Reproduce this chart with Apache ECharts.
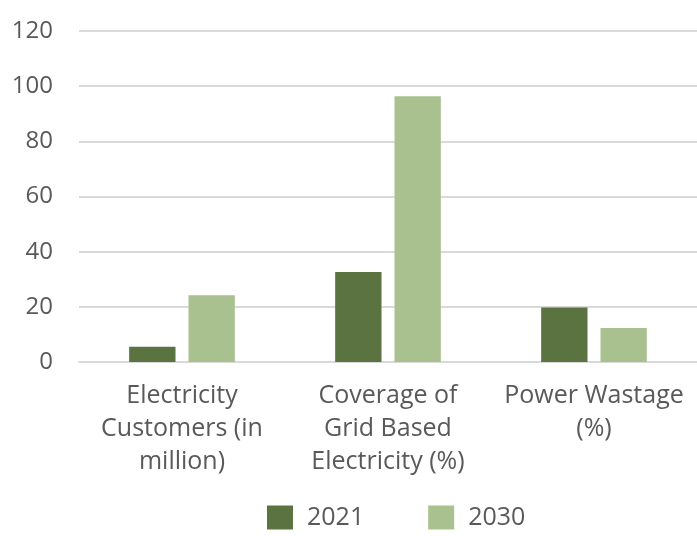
<!DOCTYPE html>
<html><head><meta charset="utf-8">
<script src="https://cdn.jsdelivr.net/npm/echarts@6/dist/echarts.min.js"></script>
<style>html,body{margin:0;padding:0;background:#fff}#c{width:697px;height:536px}</style>
</head><body><div id="c"></div>
<script>
const categories = ["Electricity\nCustomers (in\nmillion)", "Coverage of\nGrid Based\nElectricity (%)", "Power Wastage\n(%)"];
const values2021 = [5.5, 32.6, 19.8];
const values2030 = [24.2, 96.3, 12.3];
const seriesNames = ["2021", "2030"];
const yTicks = [0, 20, 40, 60, 80, 100, 120];

const chart = echarts.init(document.getElementById('c'), null, {renderer: 'canvas'});
const font = '"Open Sans", Lato, sans-serif';
chart.setOption({
  animation: false,
  grid: {left: 79, right: 0, top: 31, bottom: 174, containLabel: false},
  legend: {
    bottom: 1, left: 262, itemWidth: 26, itemHeight: 24, itemGap: 64,
    textStyle: {fontFamily: font, fontSize: 25, color: '#595959', padding: [0, 0, 0, 9]},
    data: seriesNames, icon: 'rect'
  },
  xAxis: {
    type: 'category', data: categories,
    axisLine: {lineStyle: {color: '#d9d9d9', width: 2}},
    axisTick: {show: false},
    axisLabel: {fontFamily: font, fontSize: 25, color: '#595959', lineHeight: 33, margin: 17, interval: 0}
  },
  yAxis: {
    type: 'value', min: yTicks[0], max: yTicks[yTicks.length - 1], interval: 20,
    axisLine: {show: false}, axisTick: {show: false},
    splitLine: {lineStyle: {color: '#d9d9d9', width: 2}},
    axisLabel: {fontFamily: font, fontSize: 24, color: '#595959', margin: 26}
  },
  series: [
    {name: seriesNames[0], type: 'bar', data: values2021, barWidth: '22.5%', barGap: '28%', itemStyle: {color: '#5b7340'}},
    {name: seriesNames[1], type: 'bar', data: values2030, barWidth: '22.5%', itemStyle: {color: '#a9c08f'}}
  ]
});
</script></body></html>
